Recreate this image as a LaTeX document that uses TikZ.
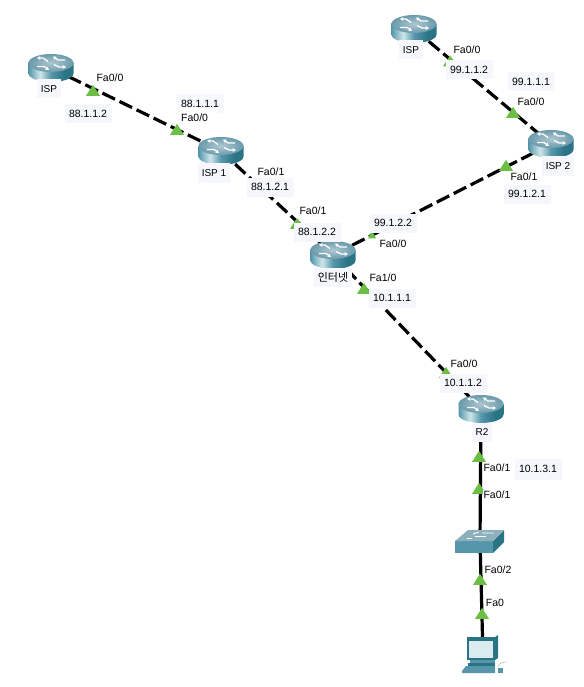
\documentclass[tikz,border=0pt]{standalone}
\usepackage{fontspec}
\setmainfont{Liberation Sans}
\newfontfamily\cjkfont{Noto Sans CJK KR}
\usepackage{xcolor}
\usetikzlibrary{arrows.meta,positioning,shapes.geometric}
\definecolor{portgreen}{HTML}{6CBE45}
\definecolor{boxpale}{HTML}{F5F7FD}
\definecolor{tealdark}{HTML}{2B7486}
\definecolor{tealmid}{HTML}{5596AB}
\definecolor{teallight}{HTML}{CFE6EA}
\definecolor{routertop}{HTML}{8DB0BD}
\definecolor{routeredge}{HTML}{6A9AAC}
\pgfdeclarehorizontalshading{routerbody}{100bp}{
    color(0bp)=(tealmid); color(25bp)=(tealmid); color(38bp)=(teallight); color(50bp)=(tealmid); color(65bp)=(tealdark); color(75bp)=(tealdark); color(100bp)=(tealdark)}
\tikzset{
    routerpic/.pic={
        \path[shading=routerbody]
            (-22.5,-5) -- (-22.5,5.5) arc[start angle=180, end angle=0, x radius=22.5, y radius=8.5] -- (22.5,-5) -- cycle;
        \path[inner color=routertop!70!white, outer color=routeredge] (0,-5) ellipse[x radius=22.5, y radius=9];
        \draw[white, line width=1.3pt, -{Stealth[length=3.5pt, width=4pt]}] (-3,-6.5) -- (-8,-10) -- (-14,-10);
        \draw[white, line width=1.3pt, -{Stealth[length=3.5pt, width=4pt]}] (14,-8) -- (7,-8) -- (2,-11.5);
        \draw[white, line width=1.3pt, -{Stealth[length=3.5pt, width=4pt]}] (-14,-1.5) -- (-7,-1.5) -- (-2,2);
        \draw[white, line width=1.3pt, -{Stealth[length=3.5pt, width=4pt]}] (3,-3.5) -- (8,-1) -- (15,-1);
    },
    switchpic/.pic={
        \path[fill=tealmid] (-25,0) rectangle (13,12);
        \path[fill=tealdark] (13,0) -- (24,-11) -- (24,1) -- (13,12) -- cycle;
        \path[fill=routertop] (-25,0) -- (-12,-11) -- (24,-11) -- (13,0) -- cycle;
        \draw[white, line width=.9pt] (-7,-7) -- (-1,-9) (2,-8) -- (14,-8);
        \draw[white, line width=.9pt] (-13,-3) -- (-8,-3) (-5,-5) -- (6,-5);
    },
    pcpic/.pic={
        \path[fill=tealdark] (-16,-19) -- (12,-19) -- (15,-21) -- (15,2) -- (12,4) -- (-16,4) -- cycle;
        \path[fill=teallight!75!white] (-14,-15) rectangle (10,2);
        \path[fill=tealmid] (-13,4) rectangle (12,7);
        \path[fill=tealdark] (-15,7) rectangle (12,10);
        \path[fill=tealmid] (-21,15) -- (-17,10) -- (12,10) -- (12,17) -- (-21,17) -- cycle;
        \path[fill=tealmid] (15,12) rectangle (20,17);
        \draw[black!25, line width=.6pt] (15,10) .. controls (17,6) and (20,7) .. (23,6);
    }
}
\begin{document}
\begin{tikzpicture}[
    x=1pt, y=-1pt,
    devpoint/.style={inner sep=0pt, minimum size=0pt},
    wanlink/.style={line width=3.2pt, dash pattern=on 14pt off 5pt},
    lanlink/.style={line width=3.2pt},
    portmark/.style={fill=portgreen, isosceles triangle, isosceles triangle stretches, shape border rotate=90, inner sep=0pt, minimum height=11pt, minimum width=14pt},
    portname/.style={fill=white, inner sep=1pt, font=\fontsize{10.5}{12}\selectfont},
    addrbox/.style={fill=boxpale, inner sep=0pt, minimum width=47pt, minimum height=19pt, font=\fontsize{10.5}{12}\selectfont},
    hostbox/.style={fill=boxpale, inner xsep=3.5pt, inner ysep=2pt, minimum height=19pt, font=\fontsize{10}{12}\selectfont}
]
\useasboundingbox (0,0) rectangle (583,687);
\node[devpoint] (ispa) at (51,68) {};
\node[devpoint] (isp1) at (221,151) {};
\node[devpoint] (ispb) at (414,29) {};
\node[devpoint] (isp2) at (551,144) {};
\node[devpoint] (inet) at (333,255) {};
\node[devpoint] (r2) at (481,409) {};
\node[devpoint] (sw) at (480,541) {};
\node[devpoint] (pc) at (483,656) {};
\draw[wanlink] (ispa) -- (isp1);
\draw[wanlink] (isp1) -- (inet);
\draw[wanlink] (ispb) -- (isp2);
\draw[wanlink] (isp2) -- (inet);
\draw[wanlink] (inet) -- (r2);
\draw[lanlink] (r2) -- (sw);
\draw[lanlink] (sw) -- (pc);
\node[portmark] (m1) at (93,92) {};
\node[portmark] (m2) at (177,131) {};
\node[portmark] (m3) at (297,225) {};
\node[portmark] (m4) at (450,62.5) {};
\node[portmark] (m5) at (513,114) {};
\node[portmark] (m6) at (506,167) {};
\node[portmark, minimum width=8pt, minimum height=8pt] (m7) at (372,236) {};
\node[portmark] (m8) at (364,290) {};
\node[portmark] (m9) at (446,374) {};
\node[portmark] (m10) at (479,458) {};
\node[portmark] (m11) at (479,490) {};
\node[portmark] (m12) at (480,581) {};
\node[portmark] (m13) at (482,615) {};
\pic at (ispa) {routerpic};
\pic at (isp1) {routerpic};
\pic at (ispb) {routerpic};
\pic at (isp2) {routerpic};
\pic at (inet) {routerpic};
\pic at (r2) {routerpic};
\pic at (sw) {switchpic};
\pic at (pc) {pcpic};
\node[addrbox] (a1) at (88,114) {88.1.1.2};
\node[addrbox] (a2) at (200,104) {88.1.1.1};
\node[addrbox] (a3) at (270,187) {88.1.2.1};
\node[addrbox] (a4) at (317,232) {88.1.2.2};
\node[addrbox] (a5) at (393,223) {99.1.2.2};
\node[addrbox] (a6) at (392,298) {10.1.1.1};
\node[addrbox] (a7) at (469,70) {99.1.1.2};
\node[addrbox] (a8) at (531,82) {99.1.1.1};
\node[addrbox] (a9) at (527,194) {99.1.2.1};
\node[addrbox] (a10) at (463,383) {10.1.1.2};
\node[addrbox, minimum height=21pt] (a11) at (538,469) {10.1.3.1};
\node[portname] (p1) at (110,78) {Fa0/0};
\node[portname, anchor=west, inner sep=0pt, text width=37pt, minimum height=20pt] (p2) at (181,118) {Fa0/0};
\node[portname] (p3) at (271,172) {Fa0/1};
\node[portname] (p4) at (313,211) {Fa0/1};
\node[portname] (p5) at (393,244) {Fa0/0};
\node[portname] (p6) at (383,278) {Fa1/0};
\node[portname] (p7) at (467,50) {Fa0/0};
\node[portname] (p8) at (531,102) {Fa0/0};
\node[portname] (p9) at (524,177) {Fa0/1};
\node[portname] (p10) at (464,364) {Fa0/0};
\node[portname] (p11) at (497,468) {Fa0/1};
\node[portname] (p12) at (497,495) {Fa0/1};
\node[portname] (p13) at (498,570) {Fa0/2};
\node[portname] (p14) at (495,603) {Fa0};
\node[hostbox] (h1) at (49,89) {ISP};
\node[hostbox] (h2) at (214,173) {ISP 1};
\node[hostbox] (h3) at (411,50) {ISP};
\node[hostbox] (h4) at (558,166) {ISP 2};
\node[hostbox, font=\cjkfont\fontsize{11}{12}\selectfont] (h5) at (333,277) {인터넷};
\node[hostbox] (h6) at (482,432) {R2};
\end{tikzpicture}
\end{document}
